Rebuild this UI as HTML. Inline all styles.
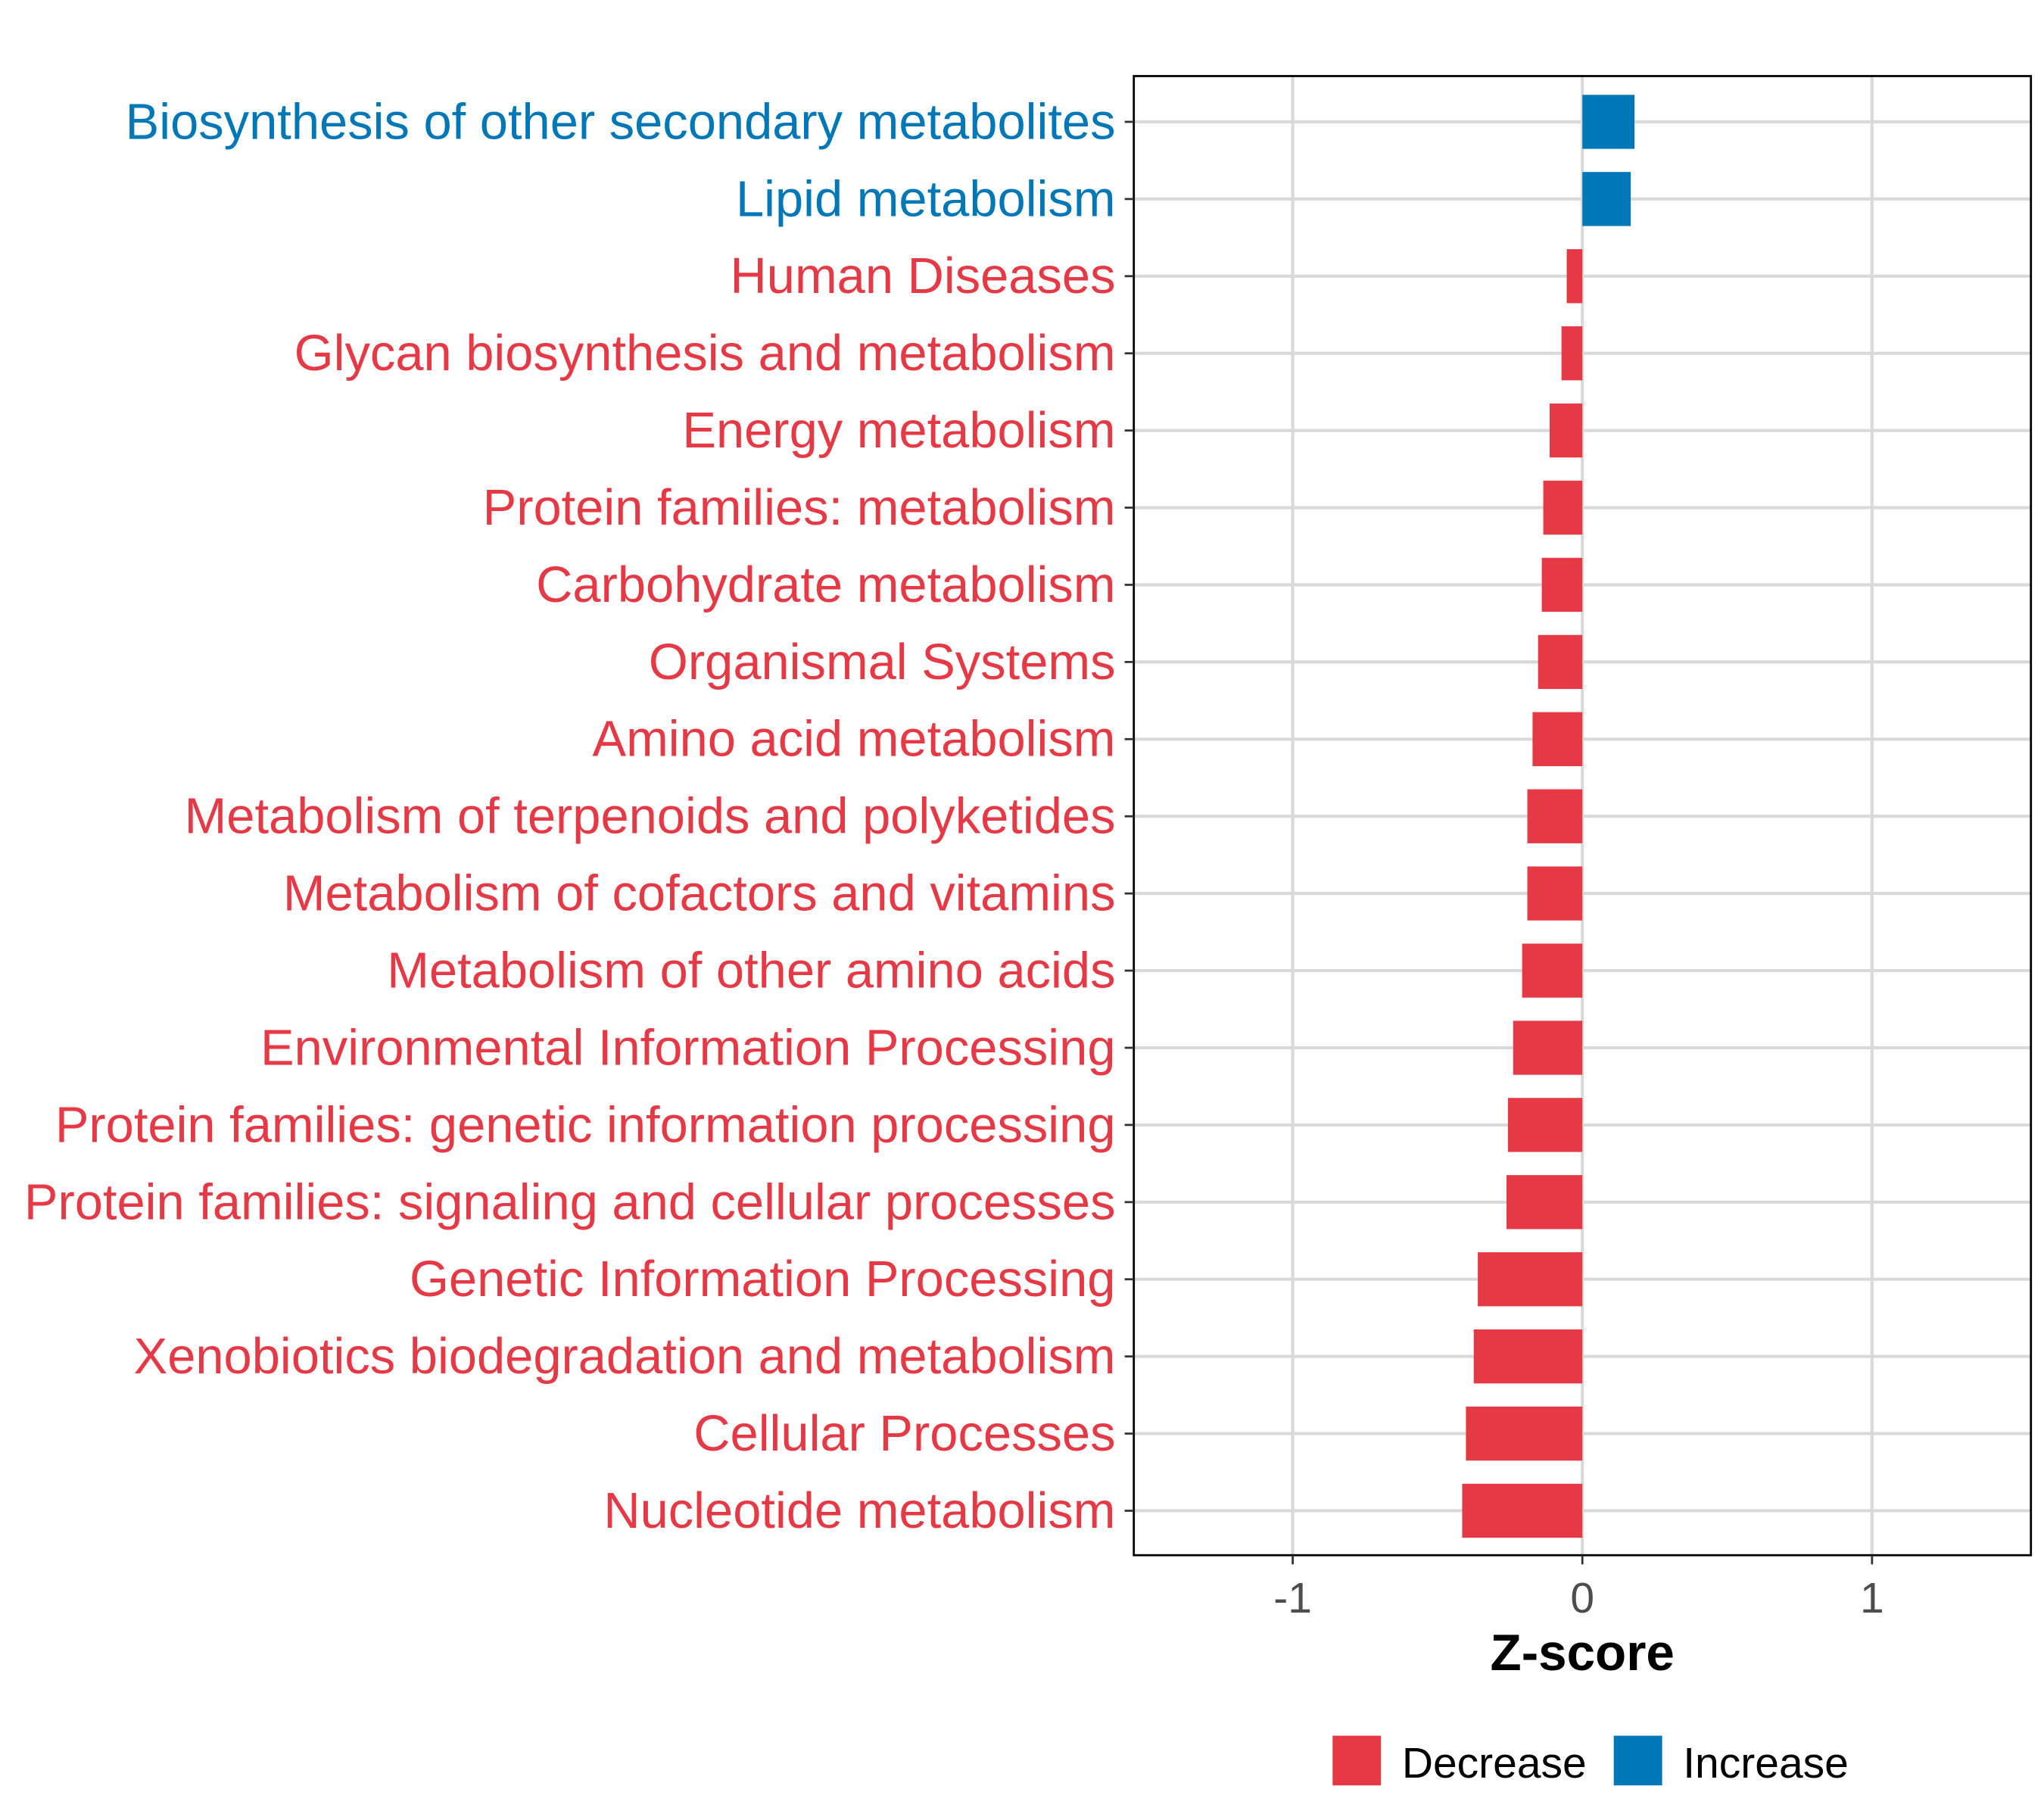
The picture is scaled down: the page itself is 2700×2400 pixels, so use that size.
<!DOCTYPE html>
<html><head><meta charset="utf-8"><style>
html,body{margin:0;padding:0;background:#fff}
svg{display:block}
text{font-family:"Liberation Sans",Arial,sans-serif}
</style></head><body>
<svg id="chart" width="2700" height="2400" viewBox="0 0 1563 1389" xmlns="http://www.w3.org/2000/svg">
<g id="grid"></g>
<g id="bars"></g>
<rect x="867" y="58" width="686" height="1131" fill="none" stroke="#000" stroke-width="1.6"/>
<g id="yaxis"></g>
<g id="xaxis"></g>
<text x="1210" y="1277" text-anchor="middle" font-size="39" font-weight="bold" fill="#000">Z-score</text>
<g>
<rect x="1019" y="1327" width="37" height="38" fill="#e63946"/>
<text x="1072" y="1359" font-size="33" fill="#000">Decrease</text>
<rect x="1234" y="1327" width="37" height="38" fill="#0077b6"/>
<text x="1287" y="1359" font-size="33" fill="#000">Increase</text>
</g>
</svg>
<script>
const categories = ["Biosynthesis of other secondary metabolites","Lipid metabolism","Human Diseases","Glycan biosynthesis and metabolism","Energy metabolism","Protein families: metabolism","Carbohydrate metabolism","Organismal Systems","Amino acid metabolism","Metabolism of terpenoids and polyketides","Metabolism of cofactors and vitamins","Metabolism of other amino acids","Environmental Information Processing","Protein families: genetic information processing","Protein families: signaling and cellular processes","Genetic Information Processing","Xenobiotics biodegradation and metabolism","Cellular Processes","Nucleotide metabolism"];
const zscores = [0.18,0.167,-0.054,-0.072,-0.113,-0.135,-0.14,-0.153,-0.172,-0.19,-0.19,-0.208,-0.239,-0.257,-0.262,-0.361,-0.375,-0.402,-0.415];
const xTicks = [-1,0,1];
const xTickLabels = ["-1","0","1"];

const NS="http://www.w3.org/2000/svg";
const pLeft=867,pRight=1553,pTop=58,pBottom=1189;
const xmin=-1.5486,xmax=1.5486;
function xs(v){return pLeft+(v-xmin)/(xmax-xmin)*(pRight-pLeft);}
const firstY=93,lastY=1155;
function ys(i){return firstY+i*(lastY-firstY)/(categories.length-1);}
const band=(lastY-firstY)/(categories.length-1);
function mk(tag,attrs,parent){const e=document.createElementNS(NS,tag);for(const k in attrs)e.setAttribute(k,attrs[k]);parent.appendChild(e);return e;}
const gridG=document.getElementById('grid'),barsG=document.getElementById('bars'),yax=document.getElementById('yaxis'),xax=document.getElementById('xaxis');
xTicks.forEach((t,i)=>{
  const g=mk('line',{x1:xs(t),x2:xs(t),y1:pTop,y2:pBottom,stroke:'#d9d9d9','stroke-width':2.4},gridG);
  
  
  const tk=mk('line',{x1:xs(t),x2:xs(t),y1:pBottom,y2:pBottom+7,stroke:'#333','stroke-width':1.6},xax);
  
  
  const tl=mk('text',{x:xs(t),y:1233,'text-anchor':'middle','font-size':33,fill:'#4d4d4d'},xax);
  tl.textContent=xTickLabels[i];
  
  
});
categories.forEach((c,i)=>{
  const y=ys(i);
  const g=mk('line',{x1:pLeft,x2:pRight,y1:y,y2:y,stroke:'#d9d9d9','stroke-width':2.4},gridG);
  
  
  const v=zscores[i];
  const col=v>=0?'#0077b6':'#e63946';
  const x0=Math.min(xs(0),xs(v)),w=Math.abs(xs(v)-xs(0));
  const b=mk('rect',{x:x0,y:y-band*0.35,width:w,height:band*0.7,fill:col},barsG);
  
  
  const tk=mk('line',{x1:pLeft-7,x2:pLeft,y1:y,y2:y,stroke:'#333','stroke-width':1.6},yax);
  
  
  const tl=mk('text',{x:853,y:y+13,'text-anchor':'end','font-size':38.7,fill:col},yax);
  tl.textContent=c;
  
  
});
</script>
</body></html>
